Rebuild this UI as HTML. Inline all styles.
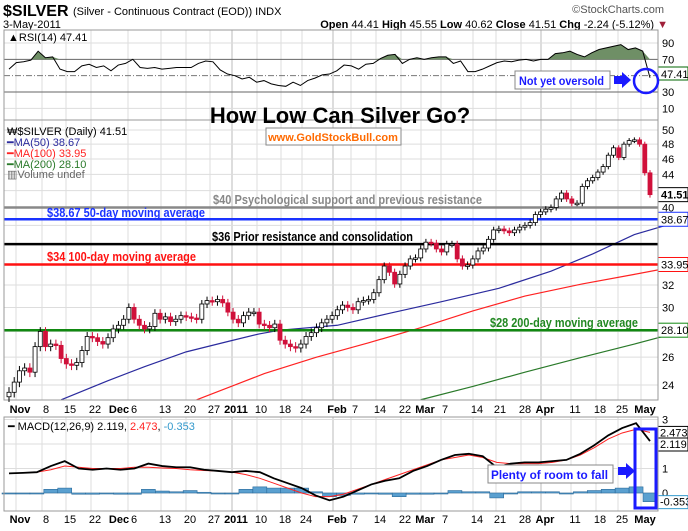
<!DOCTYPE html>
<html><head><meta charset="utf-8"><style>
body{margin:0;background:#fff;font-family:"Liberation Sans",sans-serif}
svg text{font-family:"Liberation Sans",sans-serif}
</style></head><body>
<svg id="c" width="688" height="526" viewBox="0 0 688 526" xmlns="http://www.w3.org/2000/svg"></svg>
<script>
// ---- data ----
const dateLabels=["Nov","8","15","22","Dec","6","13","20","27","2011","10","18","24","Feb","7","14","22","Mar","7","14","21","28","Apr","11","18","25","May"];
const dateLabelX=[20,46,70,95,119,134,165,190,214,236,261,285,306,337,355,380,405,425,445,477,500,525,545,575,600,622,645];
const closes=[23.5,24.2,25.0,25.2,24.9,26.8,28.0,26.8,27.0,26.9,25.9,25.5,25.4,25.6,26.5,27.6,27.5,27.2,27.0,27.5,28.2,28.5,29.0,30.0,29.0,28.5,28.2,28.4,29.5,29.0,29.2,28.8,29.0,29.3,29.2,29.1,29.0,30.3,30.6,30.5,30.7,30.4,29.6,29.0,28.7,29.3,29.6,29.6,28.6,28.5,28.3,28.6,27.3,27.0,26.8,26.7,27.0,27.6,27.9,28.3,28.7,29.0,29.3,29.8,30.2,30.0,29.8,30.5,30.6,30.7,31.3,32.5,33.8,33.2,32.1,33.0,33.8,34.5,34.6,35.5,36.2,36.1,35.5,35.2,36.0,36.0,34.5,33.8,33.9,34.5,35.3,35.6,36.5,37.5,37.6,37.4,37.2,37.5,37.8,38.0,38.3,39.2,39.5,39.8,40.0,41.0,41.7,41.0,40.5,40.5,42.5,43.2,43.6,44.3,45.0,46.5,47.5,46.2,48.0,48.5,48.6,48.0,44.2,41.51];
const ma50Idx=[10,19,26,34,42,48,52,63,73,83,94,104,112,120,130];
const ma50Val=[23.0,24.3,25.3,26.4,27.2,27.8,28.1,28.5,29.5,30.5,31.7,33.3,35.0,37.0,38.67];
const ma100Idx=[36,49,59,69,79,89,99,110,120,130];
const ma100Val=[23.0,24.8,26.0,27.1,28.3,29.7,31.0,32.1,33.0,33.95];
const ma200Idx=[79,89,99,110,120,130];
const ma200Val=[23.0,23.9,24.9,26.0,27.0,28.1];
const rsiVals=[58,66,67,69,80,72,73,58,55,55,62,64,60,62,56,63,65,70,60,59,60,58,59,60,60,60,65,68,67,57,52,50,46,48,42,44,40,38,37,42,38,44,47,51,52,56,63,62,58,64,65,71,75,76,65,70,72,70,72,73,73,65,68,55,55,58,62,66,68,67,69,70,68,70,70,77,78,80,76,73,78,82,84,86,88,82,84,80,47.41];
const macdVals=[0.8,0.82,0.85,1.1,1.3,1.0,0.95,1.0,0.95,1.0,1.2,1.1,1.05,1.05,0.95,0.9,0.85,0.9,0.85,0.6,0.4,0.2,-0.1,-0.3,-0.15,0.1,0.35,0.5,0.6,0.9,1.1,1.35,1.55,1.6,1.5,1.05,1.2,1.25,1.25,1.3,1.35,1.6,1.95,2.35,2.65,2.85,2.119];
const signalVals=[0.8,0.82,0.85,0.95,1.1,1.05,1.0,1.0,1.0,1.05,1.05,1.02,1.0,0.95,0.92,0.9,0.85,0.75,0.6,0.4,0.2,0.0,-0.15,-0.15,-0.05,0.15,0.35,0.55,0.75,0.95,1.15,1.35,1.45,1.55,1.45,1.25,1.2,1.2,1.2,1.25,1.35,1.55,1.85,2.2,2.45,2.6,2.473];
const priceTicks=[24,26,28,30,32,34,36,38,40,42,44,46,48,50];
const priceTickLabels=["24","26","","30","32","","","","40","","44","46","48","50"];
const rsiTicks=[90,70,30,10];
const macdTicks=[3,1,0];

// ---- scales ----
const L=4,R=658,X0=9,X1=650;
const N=closes.length;
const xIdx=i=>X0+i*(X1-X0)/(N-1);
const xFrac=(i,n)=>X0+i*(X1-X0)/(n-1);
const yP=p=>130+(Math.log(50)-Math.log(p))*347.4;
const yR=v=>43+(90-v)*0.817;
const yM=v=>493-v*24.5;

const S=document.getElementById('c');
const NS='http://www.w3.org/2000/svg';
function mk(tag,at,parent,txt){const e=document.createElementNS(NS,tag);for(const k in at)e.setAttribute(k,at[k]);if(txt!==undefined)e.textContent=txt;(parent||S).appendChild(e);return e;}
function grp(name){const g=mk('g',{});return g;}

// header
let g=grp('header');
mk('text',{x:3,y:16,'font-size':16,'font-weight':'bold'},g,'$SILVER');
mk('text',{x:73,y:15,'font-size':11},g,'(Silver - Continuous Contract (EOD))  INDX');
mk('text',{x:664,y:13,'font-size':11,fill:'#555','text-anchor':'end'},g,'©StockCharts.com');
mk('text',{x:3,y:28,'font-size':11},g,'3-May-2011');
const hq=mk('text',{x:668,y:28,'font-size':11,'text-anchor':'end'},g);
hq.innerHTML='<tspan font-weight="bold">Open</tspan> 44.41  <tspan font-weight="bold">High</tspan> 45.55  <tspan font-weight="bold">Low</tspan> 40.62  <tspan font-weight="bold">Close</tspan> 41.51  <tspan font-weight="bold">Chg</tspan> -2.24 (-5.12%) <tspan fill="#a0203a">▼</tspan>';

function vgrid(g,y0,y1){dateLabelX.forEach((x,i)=>{if(dateLabels[i]==="Dec"||dateLabels[i]==="6"&&i===5)return;mk('line',{x1:x-4,x2:x-4,y1:y0,y2:y1,stroke:(dateLabels[i]==="2011"||dateLabels[i]==="Feb"||dateLabels[i]==="Apr")?'#bbb':'#ddd','stroke-width':1},g);});mk('line',{x1:128,x2:128,y1:y0,y2:y1,stroke:'#ddd'},g);}
// RSI
g=grp('rsi-panel');
vgrid(g,30,120);
[50].forEach(v=>mk('line',{x1:L,x2:R,y1:yR(v),y2:yR(v),stroke:'#777','stroke-dasharray':'6,2,1,2'},g));
rsiTicks.forEach(v=>{mk('line',{x1:L,x2:R,y1:yR(v),y2:yR(v),stroke:(v===70||v===30)?'#666':'#ddd'},g);mk('text',{x:662,y:yR(v)+4,'font-size':11},g,String(v));});
let rp=rsiVals.map((v,i)=>[xFrac(i,rsiVals.length),yR(v)]);
let fillD='M'+rp.map(p=>p[0]+','+Math.min(p[1],yR(70))).join('L')+'L'+rp[rp.length-1][0]+','+yR(70)+'L'+rp[0][0]+','+yR(70)+'Z';
const rf=mk('path',{d:fillD,fill:'#6f8f66',stroke:'none'},g);


const rl=mk('path',{d:'M'+rp.map(p=>p.join(',')).join('L'),fill:'none',stroke:'#000','stroke-width':1},g);


mk('text',{x:8,y:41,'font-size':11},g,'▲RSI(14) 47.41');
mk('rect',{x:658,y:67,width:30,height:13,fill:'#fff',stroke:'#060'},g);
mk('text',{x:661,y:78,'font-size':11},g,'47.41');
mk('rect',{x:L,y:30,width:R-L,height:90,fill:'none',stroke:'#999'},g);
const nb=grp('not-yet-oversold-note');
mk('rect',{x:515,y:71,width:95,height:18,fill:'#fff',stroke:'#888'},nb);
mk('text',{x:519,y:85,'font-size':12,'font-weight':'bold',fill:'#1a1aff',textLength:85,lengthAdjust:'spacingAndGlyphs'},nb,'Not yet oversold');
mk('path',{d:'M614,76h8v-4l9,8l-9,8v-4h-8z',fill:'#1a1aff'},nb);
mk('circle',{cx:646,cy:81,r:12,fill:'none',stroke:'#1a1aff','stroke-width':2.5},nb);

// main price panel
g=grp('price-panel');
vgrid(g,120,400);
priceTicks.forEach((p,i)=>{mk('line',{x1:L,x2:R,y1:yP(p),y2:yP(p),stroke:'#ddd'},g);if(priceTickLabels[i])mk('text',{x:662,y:yP(p)+4,'font-size':11},g,priceTickLabels[i]);});
function maLine(idx,val,col,name){const d='M'+idx.map((ix,k)=>xIdx(ix)+','+Math.min(400,yP(val[k]))).join('L');const e=mk('path',{d,fill:'none',stroke:col,'stroke-width':1.2},g);}
maLine(ma50Idx,ma50Val,'#2b2b9e','ma50-line');
maLine(ma100Idx,ma100Val,'#ff2222','ma100-line');
maLine(ma200Idx,ma200Val,'#2a7a2a','ma200-line');
function hline(p,col,name){const e=mk('line',{x1:L,x2:R,y1:yP(p),y2:yP(p),stroke:col,'stroke-width':2.5},g);}
hline(40,'#888','support-40-line');hline(38.67,'#1a33ff','ma50-level-line');hline(36,'#000','resistance-36-line');hline(33.95,'#ff1111','ma100-level-line');hline(28.1,'#118811','ma200-level-line');
const cg=grp('candles');
for(let i=0;i<N;i++){const c=closes[i],o=i?closes[i-1]:c-0.3;const x=xIdx(i);const up=c>=o;const hi=Math.max(o,c)+0.35,lo=Math.min(o,c)-0.35;
mk('line',{x1:x,x2:x,y1:yP(hi),y2:yP(lo),stroke:up?'#000':'#d0103a'},cg);
const t=Math.min(yP(o),yP(c)),h=Math.max(1.5,Math.abs(yP(o)-yP(c)));
const b=mk('rect',{x:x-2,y:t,width:4,height:h,fill:up?'#fff':'#d0103a',stroke:up?'#000':'#d0103a','stroke-width':0.8},cg);

}
function ann(x,y,w,col,s){mk('text',{x,y,'font-size':13,'font-weight':'bold',fill:col,textLength:w,lengthAdjust:'spacingAndGlyphs'},g,s);}
ann(213,204,269,'#888','$40 Psychological support and previous resistance');
ann(47,217,158,'#1a33ff','$38.67 50-day moving average');
ann(212,241,201,'#000','$36 Prior resistance and consolidation');
ann(47,261,149,'#ff1111','$34 100-day moving average');
ann(490,327,148,'#228822','$28 200-day moving average');
const lg=grp('price-legend');
mk('text',{x:7,y:135,'font-size':11},lg,'₩$SILVER (Daily) 41.51');
mk('text',{x:7,y:146,'font-size':11,fill:'#2b2b9e'},lg,'━MA(50) 38.67');
mk('text',{x:7,y:157,'font-size':11,fill:'#ff2222'},lg,'━MA(100) 33.95');
mk('text',{x:7,y:168,'font-size':11,fill:'#2a7a2a'},lg,'━MA(200) 28.10');
mk('text',{x:7,y:178,'font-size':11,fill:'#666'},lg,'▥Volume undef');
[[41.51,'41.51','#000'],[38.67,'38.67','#1a33ff'],[33.95,'33.95','#ff1111'],[28.1,'28.10','#118811']].forEach(a=>{mk('rect',{x:658,y:yP(a[0])-7,width:30,height:14,fill:'#fff',stroke:a[2]},g);mk('text',{x:661,y:yP(a[0])+4,'font-size':11,'font-weight':a[1]==='41.51'?'bold':'normal'},g,a[1]);});
mk('rect',{x:L,y:120,width:R-L,height:280,fill:'none',stroke:'#999'},g);
const tg=grp('chart-title');
mk('text',{x:340,y:123,'font-size':22,'font-weight':'bold','text-anchor':'middle'},tg,'How Low Can Silver Go?');
const wb=grp('website-badge');
mk('rect',{x:266,y:128,width:135,height:17,fill:'#fff',stroke:'#888'},wb);
mk('text',{x:333,y:141,'font-size':11,'font-weight':'bold',fill:'#ff6a00','text-anchor':'middle'},wb,'www.GoldStockBull.com');

function xlabels(y,name){const xg=grp(name);dateLabels.forEach((s,i)=>mk('text',{x:dateLabelX[i],y,'font-size':11,'font-weight':/^[A-Z0-9]{3,}|^[A-Z]/.test(s)?'bold':'normal','text-anchor':'middle'},xg,s));}
xlabels(413,'x-axis-labels-main');
xlabels(523,'x-axis-labels-macd');

// MACD panel
g=grp('macd-panel');
vgrid(g,417,511);
[3,2,1,0].forEach(v=>mk('line',{x1:L,x2:R,y1:yM(v),y2:yM(v),stroke:'#ddd'},g));
macdTicks.forEach(v=>mk('text',{x:662,y:yM(v)+4,'font-size':11},g,String(v)));
const nm=macdVals.length;const bw=(X1-X0)/(nm-1);
macdVals.forEach((m,i)=>{const hv=m-signalVals[i];const x=xFrac(i,nm);const y0=yM(0),y1=yM(hv);
const b=mk('rect',{x:x-bw/2,y:Math.min(y0,y1),width:bw,height:Math.max(1,Math.abs(y1-y0)),fill:'#5aa0d0',stroke:'#2a6a9a','stroke-width':0.6},g);

});
const sl=mk('path',{d:'M'+signalVals.map((v,i)=>xFrac(i,nm)+','+yM(v)).join('L'),fill:'none',stroke:'#ff2222','stroke-width':1},g);


const ml=mk('path',{d:'M'+macdVals.map((v,i)=>xFrac(i,nm)+','+yM(v)).join('L'),fill:'none',stroke:'#000','stroke-width':1.8},g);


const mt=mk('text',{x:8,y:430,'font-size':11},g);
mt.innerHTML='━ MACD(12,26,9) 2.119, <tspan fill="#ff2222">2.473</tspan>, <tspan fill="#3399cc">-0.353</tspan>';
[[2.473,'2.473','#000'],[2.0,'2.119','#000'],[-0.353,'-0.353','#3399cc']].forEach(a=>{mk('rect',{x:658,y:yM(a[0])-6,width:30,height:13,fill:'#fff',stroke:a[2]},g);mk('text',{x:660,y:yM(a[0])+4,'font-size':11},g,a[1]);});
mk('rect',{x:L,y:417,width:R-L,height:94,fill:'none',stroke:'#999'},g);
const pb=grp('plenty-of-room-note');
mk('rect',{x:488,y:465,width:125,height:18,fill:'#fff',stroke:'#888'},pb);
mk('text',{x:491,y:479,'font-size':12,'font-weight':'bold',fill:'#1a1aff',textLength:117,lengthAdjust:'spacingAndGlyphs'},pb,'Plenty of room to fall');
mk('path',{d:'M618,467h8v-4l9,8l-9,8v-4h-8z',fill:'#1a1aff'},pb);
mk('rect',{x:635,y:429,width:21,height:79,fill:'none',stroke:'#1a1aff','stroke-width':3},pb);
</script>
</body></html>
